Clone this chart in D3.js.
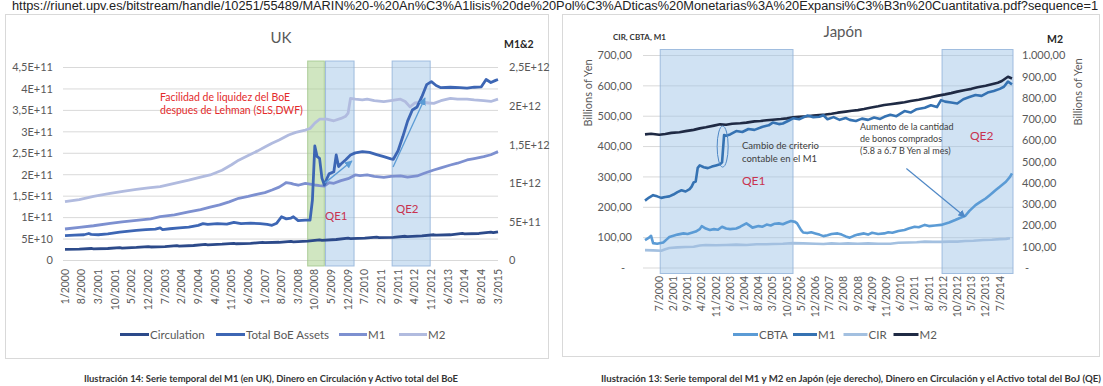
<!DOCTYPE html>
<html>
<head>
<meta charset="utf-8">
<script src="https://cdn.jsdelivr.net/npm/d3@7"></script>
<style>
  body { margin: 0; background: #fff; }
  svg text { font-family: Lato, "Open Sans", sans-serif; }
</style>
</head>
<body>
<svg id="chart"></svg>
<script>
// two excel-like panels: UK money aggregates (left) and Japan (right)

// ---------- DATA ----------
// UK, month index 0 = 1/2000 ... 182 = 3/2015
let ukTickLabels = ["1/2000","8/2000","3/2001","10/2001","5/2002","12/2002","7/2003","2/2004",
  "9/2004","4/2005","11/2005","6/2006","1/2007","8/2007","3/2008","10/2008","5/2009","12/2009",
  "7/2010","2/2011","9/2011","4/2012","11/2012","6/2013","1/2014","8/2014","3/2015"];
let ukLeftTicks = ["0","5E+10","1E+11","1,5E+11","2E+11","2,5E+11","3E+11","3,5E+11","4E+11","4,5E+11"];
let ukRightTicks = ["0","5E+11","1E+12","1,5E+12","2E+12","2,5E+12"];

// left axis, units of 1E11
let ukCirculation = [[0,.26],[6,.265],[11,.28],[12,.27],[18,.28],[23,.30],[24,.29],[30,.305],[35,.325],
  [36,.315],[42,.325],[47,.345],[48,.335],[54,.35],[59,.375],[60,.365],[66,.38],[71,.40],[72,.39],
  [78,.40],[83,.425],[84,.415],[90,.425],[95,.445],[96,.435],[102,.45],[107,.48],[108,.47],[114,.49],
  [119,.52],[120,.51],[126,.52],[131,.545],[132,.535],[138,.54],[143,.565],[144,.555],[150,.575],
  [155,.60],[156,.59],[162,.60],[167,.63],[168,.62],[174,.63],[179,.66],[180,.65],[182,.67]];
let ukBoeAssets = [[0,.58],[4,.59],[8,.60],[10,.63],[11,.61],[14,.60],[18,.62],[23,.66],[26,.68],
  [30,.70],[34,.72],[38,.73],[40,.76],[41,.72],[44,.74],[48,.76],[52,.78],[56,.82],[58,.86],[60,.84],
  [64,.86],[68,.85],[71,.89],[74,.86],[78,.87],[82,.86],[85,.84],[87,.82],[89,.87],[91,1.02],[93,.97],
  [95,.99],[96,1.02],[98,.93],[101,.94],[103,.94],[104,1.41],[105,2.67],[106,2.42],[107,2.38],
  [108,1.92],[109,1.76],[110,1.90],[111,2.02],[113,2.07],[114,2.46],[115,2.19],[116,2.25],[118,2.35],
  [120,2.46],[122,2.51],[125,2.54],[128,2.52],[131,2.47],[134,2.42],[137,2.37],[138,2.36],[140,2.56],
  [142,2.89],[144,3.25],[146,3.51],[148,3.58],[150,3.82],[152,4.10],[154,4.17],[156,4.08],[158,4.03],
  [162,4.04],[166,4.03],[169,4.02],[172,4.04],[175,4.05],[177,4.22],[179,4.15],[181,4.20],[182,4.22]];
// right axis, units of 1E12
let ukM1 = [[0,.408],[6,.43],[12,.45],[19,.48],[24,.50],[30,.52],[36,.54],[40,.567],[46,.59],[52,.63],
  [57,.66],[61,.69],[65,.72],[69,.76],[73,.806],[77,.83],[81,.86],[84,.88],[87,.913],[90,.95],[92,.99],
  [93,1.01],[95,1.0],[96,.99],[98,.975],[101,1.0],[103,.99],[105,.978],[107,.97],[109,.965],[111,1.01],
  [113,1.0],[116,1.034],[119,1.06],[122,1.108],[124,1.10],[127,1.108],[130,1.09],[134,1.078],
  [137,1.09],[141,1.095],[144,1.08],[148,1.095],[151,1.13],[155,1.172],[158,1.20],[162,1.237],
  [165,1.26],[169,1.302],[172,1.32],[176,1.345],[179,1.37],[182,1.41]];
let ukM2 = [[0,.762],[6,.79],[12,.83],[19,.87],[25,.90],[30,.92],[35,.94],[40,.956],[46,1.0],[52,1.04],
  [57,1.08],[61,1.108],[66,1.17],[70,1.24],[73,1.30],[77,1.36],[81,1.42],[84,1.47],[87,1.518],
  [90,1.56],[94,1.625],[97,1.66],[101,1.69],[103,1.71],[105,1.78],[107,1.83],[110,1.83],[113,1.81],
  [116,1.84],[118,1.87],[119,1.91],[120,2.10],[122,2.09],[125,2.08],[127,2.09],[130,2.07],[134,2.057],
  [137,2.07],[141,2.09],[143,2.06],[145,1.99],[147,2.04],[150,2.05],[153,2.04],[155,2.036],[158,2.07],
  [162,2.10],[165,2.09],[169,2.09],[172,2.08],[176,2.07],[179,2.06],[182,2.09]];
// shaded periods (month index)
let ukGreen = [[102, 109]];
let ukQE = [[109.5, 121.5], [137.5, 153.5]];

// Japan, month index 0 = 12/1999 ... 181 = 1/2015
let jpTickLabels = ["7/2000","2/2001","9/2001","4/2002","11/2002","6/2003","1/2004","8/2004",
  "3/2005","10/2005","5/2006","12/2006","7/2007","2/2008","9/2008","4/2009","11/2009","6/2010",
  "1/2011","8/2011","3/2012","10/2012","5/2013","12/2013","7/2014"];
let jpLeftTicks = ["-","100,00","200,00","300,00","400,00","500,00","600,00","700,00"];
let jpRightTicks = ["-","100,00","200,00","300,00","400,00","500,00","600,00","700,00","800,00","900,00","1.000,00"];

// left axis, billions of yen
let jpCBTA = [[0,92],[2,100],[3,106],[4,82],[6,80],[9,84],[11,96],[12,102],[14,106],[16,110],[19,114],
  [21,112],[23,116],[25,120],[27,128],[28,138],[30,130],[32,125],[34,128],[36,126],[38,136],[40,130],
  [42,128],[45,130],[47,136],[50,147],[52,138],[53,133],[56,138],[58,136],[60,143],[62,140],[64,146],
  [66,147],[68,144],[70,150],[72,155],[74,152],[75,147],[77,125],[78,117],[80,115],[82,118],[84,114],
  [86,110],[88,105],[90,108],[92,112],[95,114],[97,110],[99,104],[101,100],[103,106],[105,110],
  [108,114],[110,110],[112,116],[115,112],[118,114],[120,118],[122,116],[125,122],[128,125],[130,130],
  [133,136],[135,134],[138,142],[140,138],[143,140],[146,142],[148,146],[150,150],[153,158],[155,164],
  [158,172],[160,188],[163,207],[165,216],[168,229],[170,240],[173,257],[175,268],[178,284],[180,300],[181,312]];
let jpM1 = [[0,222],[2,232],[4,240],[6,236],[8,231],[10,234],[12,236],[14,242],[16,250],[18,256],
  [20,252],[22,260],[23,268],[24,282],[25,285],[26,330],[27,338],[29,332],[31,329],[33,334],[35,338],
  [37,342],[38,348],[39,438],[40,436],[42,440],[45,451],[48,448],[51,458],[54,455],[58,465],[61,470],
  [63,479],[66,474],[68,476],[71,486],[73,493],[76,490],[80,502],[83,497],[86,498],[88,503],[90,490],
  [93,497],[96,488],[99,494],[101,488],[104,484],[107,492],[110,488],[113,496],[116,491],[118,498],
  [121,505],[124,500],[128,517],[131,512],[134,523],[138,528],[141,536],[144,530],[146,553],[148,548],
  [151,545],[154,542],[157,556],[160,563],[163,570],[166,567],[169,578],[172,583],[175,590],[177,597],
  [179,614],[181,605]];
let jpCIR = [[0,59],[4,58],[8,57],[10,62],[12,66],[16,68],[20,69],[24,70],[27,74],[30,76],[35,75],
  [40,76],[45,77],[50,76],[55,78],[60,78],[63,79],[68,80],[73,82],[78,81],[84,80],[88,79],[92,81],
  [96,80],[100,81],[105,80],[110,81],[115,80],[121,80],[125,83],[130,84],[134,85],[138,87],[142,86],
  [146,86],[150,87],[154,87],[158,89],[162,90],[167,92],[171,93],[175,95],[178,96],[180,98]];
// right axis, billions of yen
let jpM2 = [[0,629],[3,632],[7,627],[10,631],[13,636],[17,639],[20,644],[24,650],[27,657],[30,662],
  [34,670],[37,676],[40,674],[43,679],[47,681],[50,684],[54,690],[57,692],[60,695],[63,698],[67,701],
  [70,704],[73,709],[76,712],[80,714],[83,718],[86,720],[89,722],[92,726],[95,731],[99,736],[102,740],
  [105,743],[108,748],[111,754],[115,761],[118,767],[121,771],[125,776],[128,780],[131,786],[135,792],
  [138,798],[141,803],[144,810],[148,817],[151,823],[154,830],[158,838],[161,843],[164,851],[168,858],
  [171,865],[174,872],[176,880],[179,900],[181,892]];
let jpQE = [[7.5, 73], [146.5, 181.5]];

// ---------- SETUP ----------
let W = 1103, H = 386;
const svg = d3.select("#chart").attr("width", W).attr("height", H);
svg.append("rect").attr("width", W).attr("height", H).attr("fill", "#fff");

let gridColor = "#d9d9d9";
let tickColor = "#595959";

svg.append("text")
  .attr("x", 12).attr("y", 10)
  .attr("font-size", 12).attr("fill", "#222")
  .attr("textLength", 1086).attr("lengthAdjust", "spacingAndGlyphs")
  .style("font-family", "'Liberation Sans Narrow', 'Liberation Sans', sans-serif")
  .text("https://riunet.upv.es/bitstream/handle/10251/55489/MARIN%20-%20An%C3%A1lisis%20de%20Pol%C3%ADticas%20Monetarias%3A%20Expansi%C3%B3n%20Cuantitativa.pdf?sequence=1");

// arrow markers
let defs = svg.append("defs");
function marker(id, color) {
  defs.append("marker").attr("id", id)
    .attr("viewBox", "0 0 10 10").attr("refX", 9).attr("refY", 5)
    .attr("markerWidth", 6).attr("markerHeight", 6).attr("orient", "auto")
    .append("path").attr("d", "M0,0 L10,5 L0,10 z").attr("fill", color);
}
marker("arrUK", "#5b9bd5");
marker("arrJP", "#4f88c6");

function drawSeries(g, data, x, y, color, w) {
  g.append("path").datum(data)
    .attr("fill", "none").attr("stroke", color).attr("stroke-width", w)
    .attr("stroke-linejoin", "round")
    .attr("d", d3.line().x(d => x(d[0])).y(d => y(d[1])));
}

function legendItem(g, x0, y0, len, color, label) {
  g.append("line").attr("x1", x0).attr("x2", x0 + len).attr("y1", y0).attr("y2", y0)
    .attr("stroke", color).attr("stroke-width", 3);
  g.append("text").attr("x", x0 + len + 1).attr("y", y0).attr("dy", "0.35em")
    .attr("font-size", 11.5).attr("fill", tickColor).text(label);
}

// ================= UK =================
const uk = svg.append("g").attr("class", "uk");
uk.append("rect").attr("x", 5.5).attr("y", 14.5).attr("width", 543).attr("height", 344)
  .attr("fill", "none").attr("stroke", gridColor);

let xUK = d3.scaleLinear().domain([0, 182]).range([65, 498]);
let yUKl = d3.scaleLinear().domain([0, 4.5]).range([260.5, 67.5]);
let yUKr = d3.scaleLinear().domain([0, 2.5]).range([260.5, 67.5]);

// gridlines + left ticks
ukLeftTicks.forEach(function(t, i) {
  let yy = yUKl(i * 0.5);
  uk.append("line").attr("x1", 63).attr("x2", 498).attr("y1", yy).attr("y2", yy)
    .attr("stroke", gridColor);
  uk.append("text").attr("x", 53).attr("y", yy).attr("dy", "0.35em")
    .attr("text-anchor", "end").attr("font-size", 11).attr("fill", tickColor).text(t);
});
ukRightTicks.forEach(function(t, i) {
  uk.append("text").attr("x", 509).attr("y", yUKr(i * 0.5)).attr("dy", "0.35em")
    .attr("font-size", 11).attr("fill", tickColor).text(t);
});
ukTickLabels.forEach(function(t, i) {
  uk.append("text")
    .attr("transform", "translate(" + xUK(i * 7) + ",269) rotate(-90)")
    .attr("dy", "0.35em").attr("text-anchor", "end")
    .attr("font-size", 10.5).attr("fill", tickColor).text(t);
});

// shaded periods
ukGreen.forEach(function(p) {
  uk.append("rect").attr("x", xUK(p[0])).attr("y", 61)
    .attr("width", xUK(p[1]) - xUK(p[0])).attr("height", 205)
    .attr("fill", "#a9d18e").attr("fill-opacity", 0.55)
    .attr("stroke", "#9fc48a").attr("stroke-opacity", 0.8);
});
ukQE.forEach(function(p) {
  uk.append("rect").attr("x", xUK(p[0])).attr("y", 61)
    .attr("width", xUK(p[1]) - xUK(p[0])).attr("height", 205)
    .attr("fill", "#9dc3e6").attr("fill-opacity", 0.48)
    .attr("stroke", "#8fb0d8").attr("stroke-opacity", 0.8);
});

drawSeries(uk, ukM2, xUK, yUKr, "#b1bbdf", 2.8);
drawSeries(uk, ukM1, xUK, yUKr, "#7d90d0", 2.8);
drawSeries(uk, ukCirculation, xUK, yUKl, "#2c4a8a", 2.8);
drawSeries(uk, ukBoeAssets, xUK, yUKl, "#3d66b4", 2.8);

// annotation arrows (data coords)
[[[109.3, 1.81], [120.6, 2.32]], [[137.9, 2.18], [151.3, 3.79]]].forEach(function(a) {
  uk.append("line")
    .attr("x1", xUK(a[0][0])).attr("y1", yUKl(a[0][1]))
    .attr("x2", xUK(a[1][0])).attr("y2", yUKl(a[1][1]))
    .attr("stroke", "#5b9bd5").attr("stroke-width", 1.3)
    .attr("marker-end", "url(#arrUK)");
});

uk.append("text").attr("x", 281).attr("y", 42.5).attr("text-anchor", "middle")
  .attr("font-size", 15).attr("fill", tickColor).text("UK");
uk.append("text").attr("x", 504).attr("y", 47.5)
  .attr("font-size", 10.5).attr("font-weight", "bold").attr("fill", "#262626").text("M1&2");
uk.append("text").attr("x", 160).attr("y", 101)
  .attr("font-size", 10.5).attr("fill", "#e32b2b").text("Facilidad de liquidez del BoE");
uk.append("text").attr("x", 160).attr("y", 114)
  .attr("font-size", 10.5).attr("fill", "#e32b2b").text("despues de Lehman (SLS,DWF)");
uk.append("text").attr("x", 325).attr("y", 216).attr("dy", "0.35em")
  .attr("font-size", 11.5).attr("fill", "#c8334f").text("QE1");
uk.append("text").attr("x", 396).attr("y", 209).attr("dy", "0.35em")
  .attr("font-size", 11.5).attr("fill", "#c8334f").text("QE2");

legendItem(uk, 120, 334.5, 29, "#2c4a8a", "Circulation");
legendItem(uk, 216, 334.5, 29, "#3d66b4", "Total BoE Assets");
legendItem(uk, 339, 334.5, 28, "#7d90d0", "M1");
legendItem(uk, 399, 334.5, 28, "#b1bbdf", "M2");

uk.append("text").attr("x", 271).attr("y", 382).attr("text-anchor", "middle")
  .attr("font-size", 9.5).attr("font-weight", "bold").attr("fill", "#333")
  .attr("textLength", 374).attr("lengthAdjust", "spacingAndGlyphs")
  .text("Ilustración 14: Serie temporal del M1 (en UK), Dinero en Circulación y Activo total del BoE");

// ================= JAPAN =================
const jp = svg.append("g").attr("class", "jp");
jp.append("rect").attr("x", 562.5).attr("y", 14.5).attr("width", 537).attr("height", 342)
  .attr("fill", "none").attr("stroke", gridColor);

let xJP = d3.scaleLinear().domain([0, 181]).range([645, 1012]);
let yJPl = d3.scaleLinear().domain([0, 700]).range([268, 55.5]);
let yJPr = d3.scaleLinear().domain([0, 1000]).range([268, 55.5]);

jpLeftTicks.forEach(function(t, i) {
  let yy = yJPl(i * 100);
  jp.append("line").attr("x1", 643).attr("x2", 1013).attr("y1", yy).attr("y2", yy)
    .attr("stroke", gridColor);
  jp.append("text").attr("x", t === "-" ? 625 : 632).attr("y", yy).attr("dy", "0.35em")
    .attr("text-anchor", "end").attr("font-size", 11).attr("fill", tickColor).text(t);
});
jpRightTicks.forEach(function(t, i) {
  jp.append("text").attr("x", t === "-" ? 1025 : 1022).attr("y", yJPr(i * 100)).attr("dy", "0.35em")
    .attr("font-size", 11).attr("fill", tickColor).text(t);
});
jpTickLabels.forEach(function(t, i) {
  jp.append("text")
    .attr("transform", "translate(" + xJP(7 + i * 7) + ",276) rotate(-90)")
    .attr("dy", "0.35em").attr("text-anchor", "end")
    .attr("font-size", 10.5).attr("fill", tickColor).text(t);
});

jpQE.forEach(function(p) {
  jp.append("rect").attr("x", xJP(p[0])).attr("y", 49.5)
    .attr("width", xJP(p[1]) - xJP(p[0])).attr("height", 224)
    .attr("fill", "#9dc3e6").attr("fill-opacity", 0.48)
    .attr("stroke", "#8fb0d8").attr("stroke-opacity", 0.8);
});

drawSeries(jp, jpCIR, xJP, yJPl, "#a3c0e0", 2.6);
drawSeries(jp, jpCBTA, xJP, yJPl, "#5b9bd5", 2.6);
drawSeries(jp, jpM2, xJP, yJPr, "#1f2a44", 2.6);
drawSeries(jp, jpM1, xJP, yJPl, "#3572b2", 2.6);

// ellipse round the M1 jump
jp.append("ellipse").attr("cx", xJP(38.3)).attr("cy", yJPl(400))
  .attr("rx", 5.5).attr("ry", 20.5)
  .attr("fill", "none").attr("stroke", "#4f88c6").attr("stroke-width", 1);
// arrow to CBTA
jp.append("line")
  .attr("x1", xJP(128.9)).attr("y1", yJPl(328))
  .attr("x2", xJP(157.8)).attr("y2", yJPl(169))
  .attr("stroke", "#4f88c6").attr("stroke-width", 1.2)
  .attr("marker-end", "url(#arrJP)");

jp.append("text").attr("x", 843).attr("y", 37).attr("text-anchor", "middle")
  .attr("font-size", 15).attr("fill", tickColor).text("Japón");
jp.append("text").attr("x", 613).attr("y", 39.5)
  .attr("font-size", 8).attr("font-weight", "bold").attr("fill", "#333").text("CIR, CBTA, M1");
jp.append("text").attr("x", 1047).attr("y", 42.5)
  .attr("font-size", 10.5).attr("font-weight", "bold").attr("fill", "#262626").text("M2");
jp.append("text").attr("transform", "translate(588,93) rotate(-90)")
  .attr("text-anchor", "middle").attr("dy", "0.35em")
  .attr("font-size", 11).attr("fill", tickColor).text("Billions of Yen");
jp.append("text").attr("transform", "translate(1078,92) rotate(-90)")
  .attr("text-anchor", "middle").attr("dy", "0.35em")
  .attr("font-size", 11).attr("fill", tickColor).text("Billions of Yen");

jp.append("text").attr("x", 742).attr("y", 145.7).attr("dy", "0.35em")
  .attr("font-size", 9.5).attr("fill", "#404040").text("Cambio de criterio");
jp.append("text").attr("x", 742).attr("y", 158.3).attr("dy", "0.35em")
  .attr("font-size", 9.5).attr("fill", "#404040").text("contable en el M1");
jp.append("text").attr("x", 742).attr("y", 181).attr("dy", "0.35em")
  .attr("font-size", 12).attr("fill", "#c8334f").text("QE1");
jp.append("text").attr("x", 860).attr("y", 127.3).attr("dy", "0.35em")
  .attr("font-size", 9).attr("fill", "#404040").text("Aumento de la cantidad");
jp.append("text").attr("x", 860).attr("y", 139.3).attr("dy", "0.35em")
  .attr("font-size", 9).attr("fill", "#404040").text("de bonos comprados");
jp.append("text").attr("x", 860).attr("y", 151).attr("dy", "0.35em")
  .attr("font-size", 9).attr("fill", "#404040").text("(5.8 a 6.7 B Yen al mes)");
jp.append("text").attr("x", 970).attr("y", 135.7).attr("dy", "0.35em")
  .attr("font-size", 12).attr("fill", "#c8334f").text("QE2");

legendItem(jp, 733, 334.5, 25, "#5b9bd5", "CBTA");
legendItem(jp, 793, 334.5, 24, "#3572b2", "M1");
legendItem(jp, 843.5, 334.5, 24, "#a3c0e0", "CIR");
legendItem(jp, 893.5, 334.5, 25, "#1f2a44", "M2");

jp.append("text").attr("x", 851).attr("y", 382).attr("text-anchor", "middle")
  .attr("font-size", 9.5).attr("font-weight", "bold").attr("fill", "#333")
  .attr("textLength", 500).attr("lengthAdjust", "spacingAndGlyphs")
  .text("Ilustración 13: Serie temporal del M1 y M2 en Japón (eje derecho), Dinero en Circulación y el Activo total del BoJ (QE)");
</script>
</body>
</html>
